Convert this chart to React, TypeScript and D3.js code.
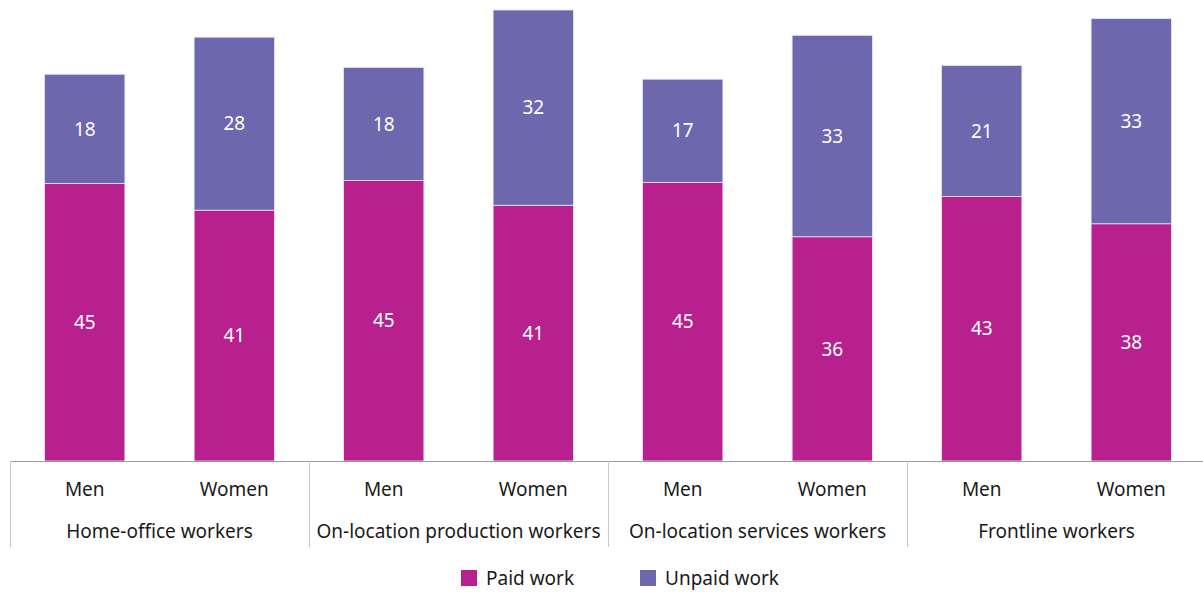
import React from "react";
import * as d3 from "d3";

// Chart data
const groups = [
    "Home-office workers",
    "On-location production workers",
    "On-location services workers",
    "Frontline workers",
];
const genders = ["Men", "Women"];
// values per bar, order: group x gender
const paidWork = [44.9, 40.6, 45.4, 41.4, 45.1, 36.3, 42.8, 38.4];
const unpaidWork = [17.7, 28.0, 18.3, 31.6, 16.7, 32.6, 21.2, 33.2];
const seriesNames = ["Paid work", "Unpaid work"];

const W = 1203;
const H = 592;
const PAID = "#B8218D";
const UNPAID = "#6D68AD";
const FONT = "'Noto Sans', 'Open Sans', sans-serif";

export default function App() {
    const left = 10;
    const right = 1206; // plot runs slightly past the right edge
    const baseY = 461;

    const bars = groups.flatMap((g, gi) =>
        genders.map((s, si) => ({
            key: `${gi}-${si}`,
            group: g,
            gender: s,
            paid: paidWork[gi * 2 + si],
            unpaid: unpaidWork[gi * 2 + si],
        }))
    );

    const x = d3.scaleBand<string>()
        .domain(bars.map(b => b.key))
        .range([left, right])
        .paddingInner(0.463)
        .paddingOuter(0.2315);

    const xg = d3.scaleBand<string>()
        .domain(groups)
        .range([left, right]);

    const y = d3.scaleLinear()
        .domain([0, 73])
        .range([baseY, 10]);

    return (
        <svg width={W} height={H} style={{ position: "absolute", left: 0, top: 0 }} fontFamily={FONT}>
            <rect width={W} height={H} fill="#fff" />
            {bars.map(b => {
                const bx = x(b.key)!;
                const bw = x.bandwidth();
                const yPaid = y(b.paid);
                const yTop = y(b.paid + b.unpaid);
                return (
                    <g key={b.key}>
                        <rect x={bx} y={yPaid} width={bw} height={baseY - yPaid}
                            fill={PAID} stroke="#f3e6f0" strokeWidth={0.8} />
                        <rect x={bx} y={yTop} width={bw} height={yPaid - yTop}
                            fill={UNPAID} stroke="#e6e5f2" strokeWidth={0.8} />
                        <text x={bx + bw / 2} y={(yPaid + baseY) / 2} dy="0.35em"
                            textAnchor="middle" fill="#fff" fontSize={19}>
                            {Math.round(b.paid)}
                        </text>
                        <text x={bx + bw / 2} y={(yTop + yPaid) / 2} dy="0.35em"
                            textAnchor="middle" fill="#fff" fontSize={19}>
                            {Math.round(b.unpaid)}
                        </text>
                        <text x={bx + bw / 2} y={489} dy="0.35em"
                            textAnchor="middle" fill="#1a1a1a" fontSize={19}>
                            {b.gender}
                        </text>
                    </g>
                );
            })}

            {/* baseline */}
            <line x1={left} x2={right} y1={baseY + 0.5} y2={baseY + 0.5} stroke="#9a9a9a" strokeWidth={1} />

            {/* group separators and labels */}
            {groups.map(g => (
                <g key={g}>
                    <line x1={Math.round(xg(g)!) + 0.5} x2={Math.round(xg(g)!) + 0.5} y1={baseY} y2={547}
                        stroke="#c8c8c8" strokeWidth={1} />
                    <text x={xg(g)! + xg.bandwidth() / 2} y={531} dy="0.35em"
                        textAnchor="middle" fill="#1a1a1a" fontSize={19}>
                        {g}
                    </text>
                </g>
            ))}

            {/* legend */}
            {seriesNames.map((s, i) => {
                const lx = i === 0 ? 461 : 640;
                return (
                    <g key={s} transform={`translate(${lx},${578})`}>
                        <rect x={0} y={-8} width={16} height={16} fill={i === 0 ? PAID : UNPAID} />
                        <text x={25} y={0} dy="0.35em" fill="#1a1a1a" fontSize={19}>{s}</text>
                    </g>
                );
            })}
        </svg>
    );
}
